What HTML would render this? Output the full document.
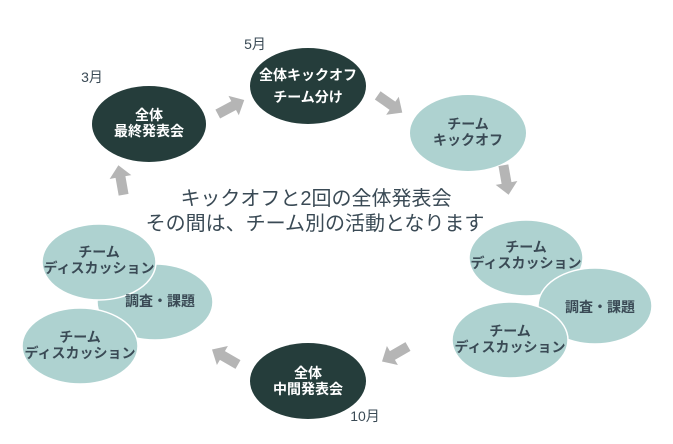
<!DOCTYPE html>
<html><head><meta charset="utf-8"><style>
body{margin:0;background:#fff;width:673px;height:444px;overflow:hidden}
svg{display:block}
text{font-family:"Liberation Sans","Noto Sans CJK JP",sans-serif;text-anchor:middle}
.w{fill:#fff;font-size:14px;font-weight:bold}
.d{fill:#3a4a55;font-size:14px;font-weight:bold}
</style></head><body>
<svg width="673" height="444" viewBox="0 0 673 444">
<defs>
<polygon id="ar" points="-15,-5 3,-5 3,-11 15,0 3,11 3,5 -15,5" fill="#b5b5b5"/>
</defs>
<use href="#ar" transform="translate(231,107) rotate(-28)"/>
<use href="#ar" transform="translate(390,104) rotate(35)"/>
<use href="#ar" transform="translate(506,180) rotate(80)"/>
<use href="#ar" transform="translate(395,354) rotate(150)"/>
<use href="#ar" transform="translate(225,357) rotate(-150)"/>
<use href="#ar" transform="translate(121,180) rotate(-100)"/>

<ellipse cx="149" cy="124" rx="57" ry="38" fill="#253d3b"/>
<ellipse cx="308" cy="86" rx="58" ry="38" fill="#253d3b"/>
<ellipse cx="468" cy="133" rx="58" ry="38" fill="#aed2d0"/>
<ellipse cx="308" cy="381" rx="58" ry="38" fill="#253d3b"/>

<ellipse cx="526" cy="258" rx="57" ry="38" fill="#aed2d0" stroke="#fff" stroke-width="1.5"/>
<ellipse cx="595" cy="306" rx="57" ry="38" fill="#aed2d0" stroke="#fff" stroke-width="1.5"/>
<ellipse cx="510" cy="340" rx="58" ry="38" fill="#aed2d0" stroke="#fff" stroke-width="1.5"/>

<ellipse cx="155" cy="302" rx="58" ry="38" fill="#aed2d0" stroke="#fff" stroke-width="1.5"/>
<ellipse cx="99" cy="262" rx="57" ry="38" fill="#aed2d0" stroke="#fff" stroke-width="1.5"/>
<ellipse cx="80" cy="346" rx="58" ry="38" fill="#aed2d0" stroke="#fff" stroke-width="1.5"/>

<text class="w" x="149" y="120">全体</text>
<text class="w" x="149" y="136">最終発表会</text>
<text class="w" x="308" y="80">全体キックオフ</text>
<text class="w" x="308" y="102">チーム分け</text>
<text class="d" x="468" y="129">チーム</text>
<text class="d" x="468" y="145">キックオフ</text>
<text class="w" x="308" y="378">全体</text>
<text class="w" x="308" y="394">中間発表会</text>

<text class="d" x="526" y="252">チーム</text>
<text class="d" x="526" y="268">ディスカッション</text>
<text class="d" x="600" y="312">調査・課題</text>
<text class="d" x="510" y="336">チーム</text>
<text class="d" x="510" y="352">ディスカッション</text>

<text class="d" x="160" y="306">調査・課題</text>
<text class="d" x="99" y="257">チーム</text>
<text class="d" x="99" y="273">ディスカッション</text>
<text class="d" x="80" y="342">チーム</text>
<text class="d" x="80" y="358">ディスカッション</text>

<text class="d" x="92" y="82" style="font-weight:normal">3月</text>
<text class="d" x="255" y="49" style="font-weight:normal">5月</text>
<text class="d" x="365" y="421" style="font-weight:normal">10月</text>

<text x="316" y="205" fill="#3a4a55" style="font-size:20px">キックオフと2回の全体発表会</text>
<text x="315" y="230" fill="#3a4a55" style="font-size:20px">その間は、チーム別の活動となります</text>
</svg>
</body></html>
